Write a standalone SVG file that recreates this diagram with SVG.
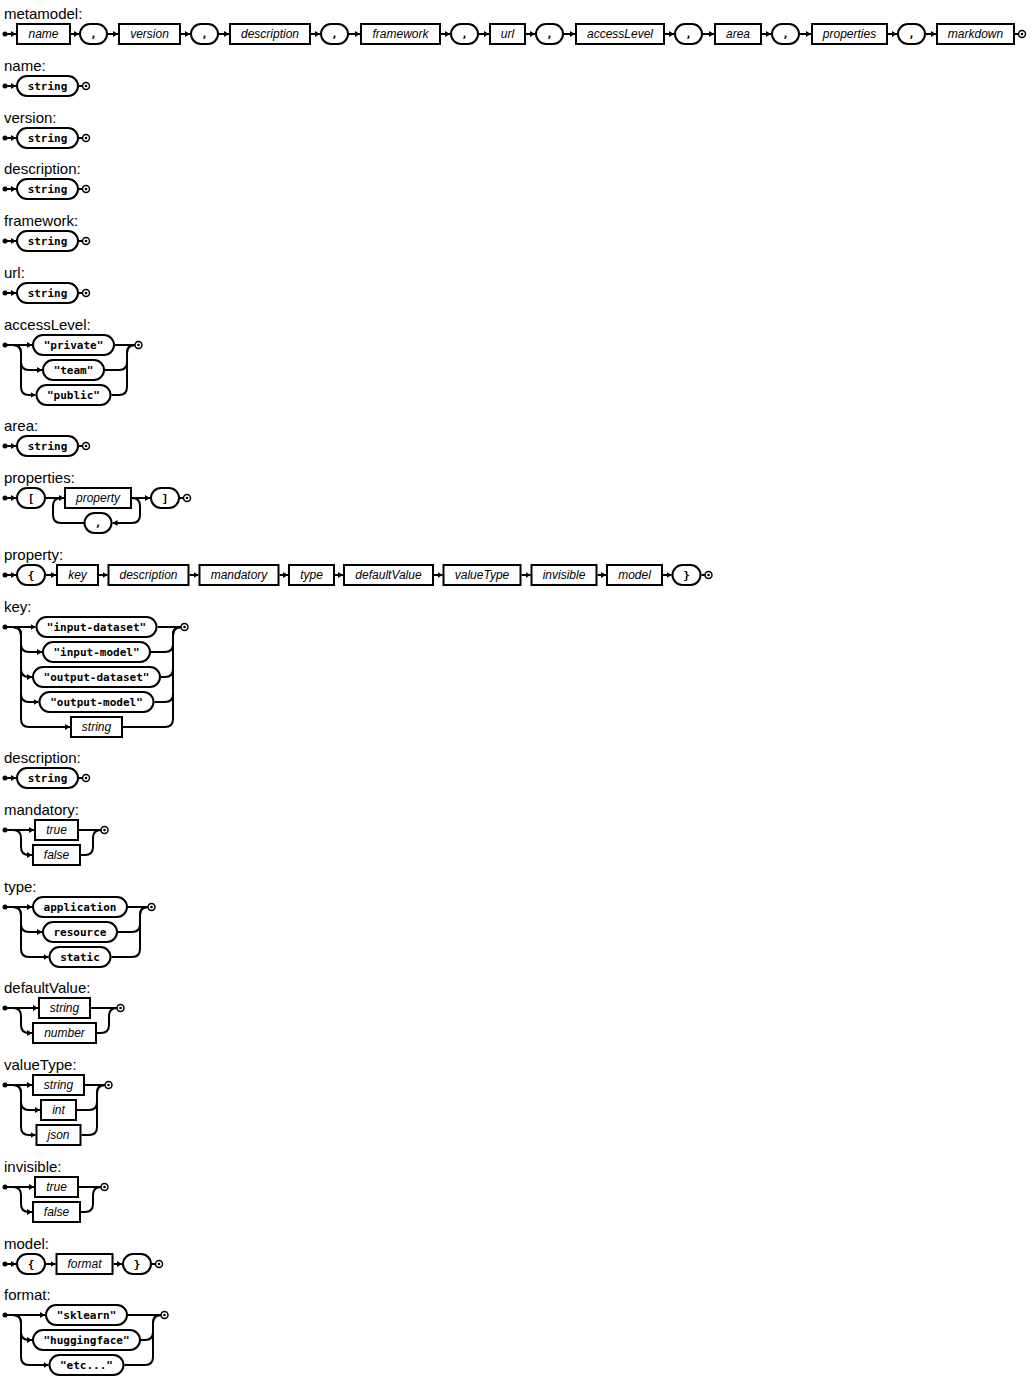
<svg xmlns="http://www.w3.org/2000/svg" width="1032" height="1382" viewBox="0 0 1032 1382">
<style>
.title{font-family:"Liberation Sans",Arial,sans-serif;font-size:15px;fill:#000}
.nt rect,.t rect{fill:#fff;stroke:#000;stroke-width:2}
.nt text{font-family:"Liberation Sans",Arial,sans-serif;font-style:italic;font-size:12px;text-anchor:middle;fill:#000}
.t text{font-family:"DejaVu Sans Mono","Liberation Mono",monospace;font-weight:bold;font-size:11px;text-anchor:middle;fill:#000}
#connectors path{fill:none;stroke:#000;stroke-width:2}
#connectors path.a{marker-end:url(#ah)}
.s{fill:#000}
.e{fill:#fff;stroke:#000;stroke-width:1.5}
</style>
<defs>
<marker id="ah" markerUnits="userSpaceOnUse" markerWidth="6" markerHeight="6" refX="5" refY="3" orient="auto"><path d="M0,0L5,3L0,6z" fill="#000"/></marker>
<g id="endm"><circle class="e" r="3.5"/><circle class="s" r="1.3"/></g>
</defs>
<rect width="1032" height="1382" fill="#fff"/>

<g id="titles">
<text class="title" x="4" y="19">metamodel:</text>
<text class="title" x="4" y="71">name:</text>
<text class="title" x="4" y="123">version:</text>
<text class="title" x="4" y="174">description:</text>
<text class="title" x="4" y="226">framework:</text>
<text class="title" x="4" y="278">url:</text>
<text class="title" x="4" y="330">accessLevel:</text>
<text class="title" x="4" y="431">area:</text>
<text class="title" x="4" y="483">properties:</text>
<text class="title" x="4" y="560">property:</text>
<text class="title" x="4" y="612">key:</text>
<text class="title" x="4" y="763">description:</text>
<text class="title" x="4" y="815">mandatory:</text>
<text class="title" x="4" y="892">type:</text>
<text class="title" x="4" y="993">defaultValue:</text>
<text class="title" x="4" y="1070">valueType:</text>
<text class="title" x="4" y="1172">invisible:</text>
<text class="title" x="4" y="1249">model:</text>
<text class="title" x="4" y="1300">format:</text>
</g>

<g id="connectors">
<!-- metamodel -->
<path class="a" d="M5,34H16"/><path class="a" d="M71,34H79"/><path class="a" d="M108,34H118"/><path class="a" d="M181,34H190"/>
<path class="a" d="M219,34H229"/>
<path class="a" d="M311,34H320"/><path class="a" d="M349,34H360"/><path class="a" d="M441,34H450"/><path class="a" d="M479,34H489"/>
<path class="a" d="M526,34H535"/><path class="a" d="M564,34H575"/><path class="a" d="M665,34H674"/><path class="a" d="M703,34H714"/>
<path class="a" d="M762,34H771"/><path class="a" d="M800,34H811"/><path class="a" d="M888,34H897"/><path class="a" d="M926,34H936"/>
<path d="M1015,34H1018.5"/>
<!-- simple string rows -->
<path class="a" d="M5,86H16"/><path d="M79,86H82.5"/>
<path class="a" d="M5,138H16"/><path d="M79,138H82.5"/>
<path class="a" d="M5,189H16"/><path d="M79,189H82.5"/>
<path class="a" d="M5,241H16"/><path d="M79,241H82.5"/>
<path class="a" d="M5,293H16"/><path d="M79,293H82.5"/>
<path class="a" d="M5,446H16"/><path d="M79,446H82.5"/>
<path class="a" d="M5,778H16"/><path d="M79,778H82.5"/>
<!-- accessLevel -->
<path class="a" d="M5,345H32"/>
<path class="a" d="M13,345q8,0 8,8V362q0,8 8,8H42"/>
<path class="a" d="M13,345q8,0 8,8V387q0,8 8,8H35.5"/>
<path d="M115,345H135"/>
<path d="M105,370H119q8,0 8,-8V353q0,-8 8,-8"/>
<path d="M111.5,395H119q8,0 8,-8V353q0,-8 8,-8"/>
<!-- properties -->
<path class="a" d="M5,498H16"/><path class="a" d="M46,498H64"/><path class="a" d="M132,498H150"/><path d="M180,498H183.5"/>
<path class="a" d="M132,498q8,0 8,8V515q0,8 -8,8H112.5"/>
<path d="M84,523H61q-8,0 -8,-8V506q0,-8 8,-8"/>
<!-- property -->
<path class="a" d="M5,575H16"/><path class="a" d="M46,575H56"/><path class="a" d="M99,575H107.5"/><path class="a" d="M189.5,575H198.5"/>
<path class="a" d="M279.5,575H288"/><path class="a" d="M335,575H343"/><path class="a" d="M434,575H442.5"/><path class="a" d="M521.5,575H530.5"/>
<path class="a" d="M597.5,575H606"/><path class="a" d="M663,575H671.5"/><path d="M701.5,575H705"/>
<!-- key -->
<path class="a" d="M5,627H35.5"/>
<path class="a" d="M13,627q8,0 8,8V644q0,8 8,8H42"/>
<path class="a" d="M13,627q8,0 8,8V669q0,8 8,8H32"/>
<path class="a" d="M13,627q8,0 8,8V694q0,8 8,8H38.5"/>
<path class="a" d="M13,627q8,0 8,8V719q0,8 8,8H70"/>
<path d="M157.5,627H181"/>
<path d="M151,652H165q8,0 8,-8V635q0,-8 8,-8"/>
<path d="M161,677H165q8,0 8,-8V635q0,-8 8,-8"/>
<path d="M154.5,702H165q8,0 8,-8V635q0,-8 8,-8"/>
<path d="M123,727H165q8,0 8,-8V635q0,-8 8,-8"/>
<!-- mandatory -->
<path class="a" d="M5,830H34"/>
<path class="a" d="M13,830q8,0 8,8V847q0,8 8,8H32"/>
<path d="M79,830H101"/>
<path d="M81,855H85q8,0 8,-8V838q0,-8 8,-8"/>
<!-- type -->
<path class="a" d="M5,907H32"/>
<path class="a" d="M13,907q8,0 8,8V924q0,8 8,8H42"/>
<path class="a" d="M13,907q8,0 8,8V949q0,8 8,8H48.5"/>
<path d="M128,907H148"/>
<path d="M118,932H132q8,0 8,-8V915q0,-8 8,-8"/>
<path d="M111.5,957H132q8,0 8,-8V915q0,-8 8,-8"/>
<!-- defaultValue -->
<path class="a" d="M5,1008H38"/>
<path class="a" d="M13,1008q8,0 8,8V1025q0,8 8,8H32"/>
<path d="M91,1008H117"/>
<path d="M97,1033H101q8,0 8,-8V1016q0,-8 8,-8"/>
<!-- valueType -->
<path class="a" d="M5,1085H32"/>
<path class="a" d="M13,1085q8,0 8,8V1102q0,8 8,8H40"/>
<path class="a" d="M13,1085q8,0 8,8V1127q0,8 8,8H35.5"/>
<path d="M85,1085H105"/>
<path d="M77,1110H89q8,0 8,-8V1093q0,-8 8,-8"/>
<path d="M81.5,1135H89q8,0 8,-8V1093q0,-8 8,-8"/>
<!-- invisible -->
<path class="a" d="M5,1187H34"/>
<path class="a" d="M13,1187q8,0 8,8V1204q0,8 8,8H32"/>
<path d="M79,1187H101"/>
<path d="M81,1212H85q8,0 8,-8V1195q0,-8 8,-8"/>
<!-- model -->
<path class="a" d="M5,1264H16"/><path class="a" d="M46,1264H55.5"/><path class="a" d="M113.5,1264H122"/><path d="M152,1264H155.5"/>
<!-- format -->
<path class="a" d="M5,1315H45"/>
<path class="a" d="M13,1315q8,0 8,8V1332q0,8 8,8H32"/>
<path class="a" d="M13,1315q8,0 8,8V1357q0,8 8,8H48.5"/>
<path d="M128,1315H161"/>
<path d="M141,1340H145q8,0 8,-8V1323q0,-8 8,-8"/>
<path d="M124.5,1365H145q8,0 8,-8V1323q0,-8 8,-8"/>
</g>

<g id="markers">
<circle class="s" cx="5" cy="34" r="2.5"/><use href="#endm" x="1022" y="34"/>
<circle class="s" cx="5" cy="86" r="2.5"/><use href="#endm" x="86" y="86"/>
<circle class="s" cx="5" cy="138" r="2.5"/><use href="#endm" x="86" y="138"/>
<circle class="s" cx="5" cy="189" r="2.5"/><use href="#endm" x="86" y="189"/>
<circle class="s" cx="5" cy="241" r="2.5"/><use href="#endm" x="86" y="241"/>
<circle class="s" cx="5" cy="293" r="2.5"/><use href="#endm" x="86" y="293"/>
<circle class="s" cx="5" cy="345" r="2.5"/><use href="#endm" x="138.5" y="345"/>
<circle class="s" cx="5" cy="446" r="2.5"/><use href="#endm" x="86" y="446"/>
<circle class="s" cx="5" cy="498" r="2.5"/><use href="#endm" x="187" y="498"/>
<circle class="s" cx="5" cy="575" r="2.5"/><use href="#endm" x="708.5" y="575"/>
<circle class="s" cx="5" cy="627" r="2.5"/><use href="#endm" x="184.5" y="627"/>
<circle class="s" cx="5" cy="778" r="2.5"/><use href="#endm" x="86" y="778"/>
<circle class="s" cx="5" cy="830" r="2.5"/><use href="#endm" x="104.5" y="830"/>
<circle class="s" cx="5" cy="907" r="2.5"/><use href="#endm" x="151.5" y="907"/>
<circle class="s" cx="5" cy="1008" r="2.5"/><use href="#endm" x="120.5" y="1008"/>
<circle class="s" cx="5" cy="1085" r="2.5"/><use href="#endm" x="108.5" y="1085"/>
<circle class="s" cx="5" cy="1187" r="2.5"/><use href="#endm" x="104.5" y="1187"/>
<circle class="s" cx="5" cy="1264" r="2.5"/><use href="#endm" x="159" y="1264"/>
<circle class="s" cx="5" cy="1315" r="2.5"/><use href="#endm" x="164.5" y="1315"/>
</g>

<!-- metamodel -->
<g id="mm-name" class="nt"><rect x="17" y="24" width="53" height="20"/><text x="43.5" y="38">name</text></g>
<g id="mm-c1" class="t"><rect x="80" y="24" width="27" height="20" rx="10"/><text x="93.5" y="38">,</text></g>
<g id="mm-version" class="nt"><rect x="119" y="24" width="61" height="20"/><text x="149.5" y="38">version</text></g>
<g id="mm-c2" class="t"><rect x="191" y="24" width="27" height="20" rx="10"/><text x="204.5" y="38">,</text></g>
<g id="mm-description" class="nt"><rect x="230" y="24" width="80" height="20"/><text x="270" y="38">description</text></g>
<g id="mm-c3" class="t"><rect x="321" y="24" width="27" height="20" rx="10"/><text x="334.5" y="38">,</text></g>
<g id="mm-framework" class="nt"><rect x="361" y="24" width="79" height="20"/><text x="400.5" y="38">framework</text></g>
<g id="mm-c4" class="t"><rect x="451" y="24" width="27" height="20" rx="10"/><text x="464.5" y="38">,</text></g>
<g id="mm-url" class="nt"><rect x="490" y="24" width="35" height="20"/><text x="507.5" y="38">url</text></g>
<g id="mm-c5" class="t"><rect x="536" y="24" width="27" height="20" rx="10"/><text x="549.5" y="38">,</text></g>
<g id="mm-accessLevel" class="nt"><rect x="576" y="24" width="88" height="20"/><text x="620" y="38">accessLevel</text></g>
<g id="mm-c6" class="t"><rect x="675" y="24" width="27" height="20" rx="10"/><text x="688.5" y="38">,</text></g>
<g id="mm-area" class="nt"><rect x="715" y="24" width="46" height="20"/><text x="738" y="38">area</text></g>
<g id="mm-c7" class="t"><rect x="772" y="24" width="27" height="20" rx="10"/><text x="785.5" y="38">,</text></g>
<g id="mm-properties" class="nt"><rect x="812" y="24" width="75" height="20"/><text x="849.5" y="38">properties</text></g>
<g id="mm-c8" class="t"><rect x="898" y="24" width="27" height="20" rx="10"/><text x="911.5" y="38">,</text></g>
<g id="mm-markdown" class="nt"><rect x="937" y="24" width="77" height="20"/><text x="975.5" y="38">markdown</text></g>

<!-- simple rows -->
<g id="name-string" class="t"><rect x="17" y="76" width="61" height="20" rx="10"/><text x="47.5" y="90">string</text></g>
<g id="version-string" class="t"><rect x="17" y="128" width="61" height="20" rx="10"/><text x="47.5" y="142">string</text></g>
<g id="description-string" class="t"><rect x="17" y="179" width="61" height="20" rx="10"/><text x="47.5" y="193">string</text></g>
<g id="framework-string" class="t"><rect x="17" y="231" width="61" height="20" rx="10"/><text x="47.5" y="245">string</text></g>
<g id="url-string" class="t"><rect x="17" y="283" width="61" height="20" rx="10"/><text x="47.5" y="297">string</text></g>

<!-- accessLevel -->
<g id="al-private" class="t"><rect x="33" y="335" width="81" height="20" rx="10"/><text x="73.5" y="349">"private"</text></g>
<g id="al-team" class="t"><rect x="43" y="360" width="61" height="20" rx="10"/><text x="73.5" y="374">"team"</text></g>
<g id="al-public" class="t"><rect x="36.5" y="385" width="74" height="20" rx="10"/><text x="73.5" y="399">"public"</text></g>

<g id="area-string" class="t"><rect x="17" y="436" width="61" height="20" rx="10"/><text x="47.5" y="450">string</text></g>

<!-- properties -->
<g id="pr-open" class="t"><rect x="17" y="488" width="28" height="20" rx="10"/><text x="31" y="502">[</text></g>
<g id="pr-property" class="nt"><rect x="65" y="488" width="66" height="20"/><text x="98" y="502">property</text></g>
<g id="pr-close" class="t"><rect x="151" y="488" width="28" height="20" rx="10"/><text x="165" y="502">]</text></g>
<g id="pr-comma" class="t"><rect x="84.5" y="513" width="27" height="20" rx="10"/><text x="98" y="527">,</text></g>

<!-- property -->
<g id="p-open" class="t"><rect x="17" y="565" width="28" height="20" rx="10"/><text x="31" y="579">{</text></g>
<g id="p-key" class="nt"><rect x="57" y="565" width="41" height="20"/><text x="77.5" y="579">key</text></g>
<g id="p-description" class="nt"><rect x="108.5" y="565" width="80" height="20"/><text x="148.5" y="579">description</text></g>
<g id="p-mandatory" class="nt"><rect x="199.5" y="565" width="79" height="20"/><text x="239" y="579">mandatory</text></g>
<g id="p-type" class="nt"><rect x="289" y="565" width="45" height="20"/><text x="311.5" y="579">type</text></g>
<g id="p-defaultValue" class="nt"><rect x="344" y="565" width="89" height="20"/><text x="388.5" y="579">defaultValue</text></g>
<g id="p-valueType" class="nt"><rect x="443.5" y="565" width="77" height="20"/><text x="482" y="579">valueType</text></g>
<g id="p-invisible" class="nt"><rect x="531.5" y="565" width="65" height="20"/><text x="564" y="579">invisible</text></g>
<g id="p-model" class="nt"><rect x="607" y="565" width="55" height="20"/><text x="634.5" y="579">model</text></g>
<g id="p-close" class="t"><rect x="672.5" y="565" width="28" height="20" rx="10"/><text x="686.5" y="579">}</text></g>

<!-- key -->
<g id="k-input-dataset" class="t"><rect x="36.5" y="617" width="120" height="20" rx="10"/><text x="96.5" y="631">"input-dataset"</text></g>
<g id="k-input-model" class="t"><rect x="43" y="642" width="107" height="20" rx="10"/><text x="96.5" y="656">"input-model"</text></g>
<g id="k-output-dataset" class="t"><rect x="33" y="667" width="127" height="20" rx="10"/><text x="96.5" y="681">"output-dataset"</text></g>
<g id="k-output-model" class="t"><rect x="39.5" y="692" width="114" height="20" rx="10"/><text x="96.5" y="706">"output-model"</text></g>
<g id="k-string" class="nt"><rect x="71" y="717" width="51" height="20"/><text x="96.5" y="731">string</text></g>

<g id="description2-string" class="t"><rect x="17" y="768" width="61" height="20" rx="10"/><text x="47.5" y="782">string</text></g>

<!-- mandatory -->
<g id="m-true" class="nt"><rect x="35" y="820" width="43" height="20"/><text x="56.5" y="834">true</text></g>
<g id="m-false" class="nt"><rect x="33" y="845" width="47" height="20"/><text x="56.5" y="859">false</text></g>

<!-- type -->
<g id="t-application" class="t"><rect x="33" y="897" width="94" height="20" rx="10"/><text x="80" y="911">application</text></g>
<g id="t-resource" class="t"><rect x="43" y="922" width="74" height="20" rx="10"/><text x="80" y="936">resource</text></g>
<g id="t-static" class="t"><rect x="49.5" y="947" width="61" height="20" rx="10"/><text x="80" y="961">static</text></g>

<!-- defaultValue -->
<g id="dv-string" class="nt"><rect x="39" y="998" width="51" height="20"/><text x="64.5" y="1012">string</text></g>
<g id="dv-number" class="nt"><rect x="33" y="1023" width="63" height="20"/><text x="64.5" y="1037">number</text></g>

<!-- valueType -->
<g id="vt-string" class="nt"><rect x="33" y="1075" width="51" height="20"/><text x="58.5" y="1089">string</text></g>
<g id="vt-int" class="nt"><rect x="41" y="1100" width="35" height="20"/><text x="58.5" y="1114">int</text></g>
<g id="vt-json" class="nt"><rect x="36.5" y="1125" width="44" height="20"/><text x="58.5" y="1139">json</text></g>

<!-- invisible -->
<g id="i-true" class="nt"><rect x="35" y="1177" width="43" height="20"/><text x="56.5" y="1191">true</text></g>
<g id="i-false" class="nt"><rect x="33" y="1202" width="47" height="20"/><text x="56.5" y="1216">false</text></g>

<!-- model -->
<g id="mo-open" class="t"><rect x="17" y="1254" width="28" height="20" rx="10"/><text x="31" y="1268">{</text></g>
<g id="mo-format" class="nt"><rect x="56.5" y="1254" width="56" height="20"/><text x="84.5" y="1268">format</text></g>
<g id="mo-close" class="t"><rect x="123" y="1254" width="28" height="20" rx="10"/><text x="137" y="1268">}</text></g>

<!-- format -->
<g id="f-sklearn" class="t"><rect x="46" y="1305" width="81" height="20" rx="10"/><text x="86.5" y="1319">"sklearn"</text></g>
<g id="f-huggingface" class="t"><rect x="33" y="1330" width="107" height="20" rx="10"/><text x="86.5" y="1344">"huggingface"</text></g>
<g id="f-etc" class="t"><rect x="49.5" y="1355" width="74" height="20" rx="10"/><text x="86.5" y="1369">"etc..."</text></g>
</svg>
